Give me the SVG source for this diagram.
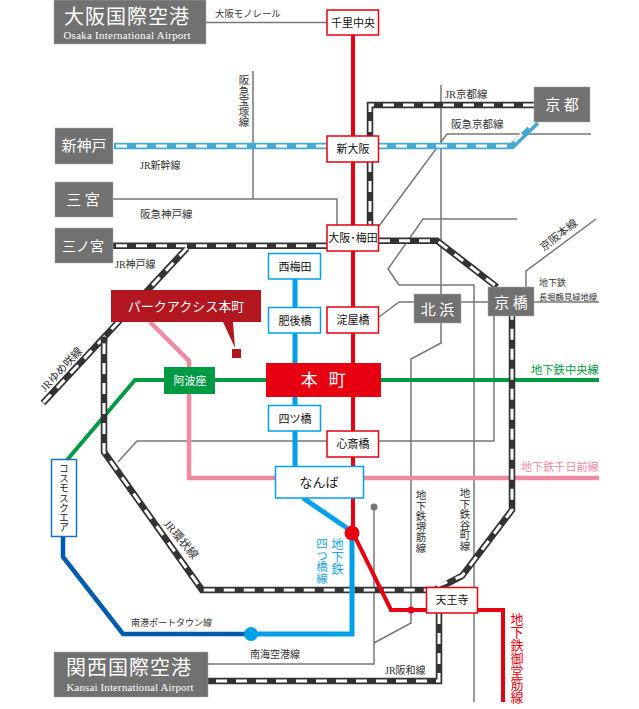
<svg xmlns="http://www.w3.org/2000/svg" width="639" height="709" viewBox="0 0 639 709">
<style>
text{font-family:"Liberation Serif","Noto Sans CJK JP",serif;fill:#222}
.n{font-family:"Noto Sans CJK JP",sans-serif;text-anchor:middle}
.l{font-family:"Liberation Serif","Noto Sans CJK JP",serif;font-size:10px;fill:#333}
.v{writing-mode:vertical-rl;font-size:10.5px;fill:#333}
.w{fill:#fff}
.g{fill:none;stroke:#777;stroke-width:1.5}
.j{fill:none;stroke:#333;stroke-width:6.5}
.jd{fill:none;stroke:#fff;stroke-width:3;stroke-dasharray:11 9}
.s{fill:none;stroke:#46a9d4;stroke-width:6.5}
.gb{fill:#717171;stroke:#aaa;stroke-width:.5}
.rb{fill:#fff;stroke:#e60012;stroke-width:1.5}
.bb{fill:#fff;stroke:#00a0e9;stroke-width:1.5}
.st{font-size:11px;fill:#111}
</style>
<g id="connectors" fill="none">
<path class="g" d="M206 22.5H327"/>
<path class="g" d="M253 71V199M113 199H337V225"/>
<path class="g" d="M441 85V343L411 359V623L374 643"/>
<path class="g" d="M379 226L447 134H591"/>
<path class="g" d="M517 219H423L388 269L399 285H474V702"/>
<path class="g" d="M596 219L526 271V287"/>
<path class="g" d="M379 317L399 302H599"/>
<path class="g" d="M118 462L137 441H494V316"/>
<path class="g" d="M208 664H374V507"/>
<path stroke="#ee8aa0" stroke-width="4.5" d="M150 322L189 361V478H599"/>
<path stroke="#009944" stroke-width="4" d="M599 380H135L67 460"/>
<path class="j" d="M113 245.7H327M187 248L43 403M104 340V452L202 590H435L462 576L512 510V316M379 240.7H437L497 287M534 105H370V225M439 613V681H208"/>
<path class="jd" d="M116 245.7H327M187 248L43 403M104 343V452L202 590H426M437 586L462 576L512 510V316M379 240.7H437L497 287M534 105H370V225M439 613V681H208"/>
<path class="s" d="M114 146H512L537 122"/>
<path stroke="#fff" stroke-width="3" stroke-dasharray="11 9" d="M116 146H510L537 119"/>
<circle cx="104" cy="340" r="3.5" fill="#333"/>
<path stroke="#00a0e9" stroke-width="5" d="M295 279V466M303 498L347 528M352 533V634H251"/>
<path stroke="#005bac" stroke-width="4.5" d="M63 536V557L123 634H245"/>
<circle cx="251" cy="634" r="7" fill="#00a0e9"/>
<path stroke="#e60012" stroke-width="4" d="M353 35V533L391 610H503V702"/>
<circle cx="352" cy="533" r="7.5" fill="#e60012"/>
<circle cx="411" cy="610" r="3.5" fill="#e60012"/>
<circle cx="374" cy="507" r="3.5" fill="#777"/>
</g>
<g id="itami"><rect class="gb" x="54" y="0" width="152" height="44"/><text class="n w" x="127" y="23.500" font-size="20" letter-spacing="1">大阪国際空港</text><text class="n w" x="127" y="39" font-size="10.800" style="font-family:'Liberation Serif',serif" textLength="127">Osaka International Airport</text></g>
<g id="kansai"><rect class="gb" x="54" y="652" width="154" height="45"/><text class="n w" x="129" y="674.500" font-size="20" letter-spacing="1">関西国際空港</text><text class="n w" x="130" y="690.500" font-size="10.800" style="font-family:'Liberation Serif',serif" textLength="127">Kansai International Airport</text></g>
<g id="shinkobe"><rect class="gb" x="55" y="128" width="58" height="36"/><text class="n w" x="84" y="151" font-size="15">新神戸</text></g>
<g id="sannomiya1"><rect class="gb" x="55" y="182" width="58" height="35"/><text class="n w" x="83" y="205" font-size="15">三 宮</text></g>
<g id="sannomiya2"><rect class="gb" x="55" y="228" width="58" height="35"/><text class="n w" x="83" y="251" font-size="14">三ノ宮</text></g>
<g id="kyoto"><rect class="gb" x="534" y="87" width="56" height="35"/><text class="n w" x="562" y="110" font-size="15">京 都</text></g>
<g id="kitahama"><rect class="gb" x="414" y="294" width="47" height="29"/><text class="n w" x="437.500" y="315" font-size="15">北 浜</text></g>
<g id="kyobashi"><rect class="gb" x="488" y="287" width="46" height="29"/><text class="n w" x="511" y="308" font-size="15">京 橋</text></g>
<g id="senri"><rect class="rb" x="327" y="10" width="51.500" height="25"/><text class="n st" x="353" y="27">千里中央</text></g>
<g id="shinosaka"><rect class="rb" x="327" y="136" width="51.500" height="26"/><text class="n st" x="353" y="153">新大阪</text></g>
<g id="umeda"><rect class="rb" x="327" y="225" width="51.500" height="26"/><text class="n st" x="353" y="242">大阪･梅田</text></g>
<g id="yodoyabashi"><rect class="rb" x="327" y="307" width="51.500" height="26"/><text class="n st" x="353" y="324">淀屋橋</text></g>
<g id="hommachi"><rect x="266" y="363" width="115" height="34" fill="#e60012"/><text class="n w" x="325" y="386" font-size="17" letter-spacing="3.500">本 町</text></g>
<g id="shinsaibashi"><rect class="rb" x="327" y="431" width="51.500" height="26"/><text class="n st" x="353" y="448">心斎橋</text></g>
<g id="tennoji"><rect class="rb" x="426.500" y="587.500" width="51" height="25.500"/><text class="n st" x="452" y="604">天王寺</text></g>
<g id="nishiumeda"><rect class="bb" x="268.500" y="253.500" width="52" height="25.500"/><text class="n st" x="295" y="271">西梅田</text></g>
<g id="higobashi"><rect class="bb" x="268.500" y="307.500" width="52" height="25.500"/><text class="n st" x="295" y="325">肥後橋</text></g>
<g id="yotsubashi"><rect class="bb" x="268.500" y="405.500" width="52" height="25.500"/><text class="n st" x="295" y="423">四ツ橋</text></g>
<g id="namba"><rect class="bb" x="275.500" y="466.500" width="88" height="31.500"/><text class="n" x="319" y="487" font-size="13" fill="#111">なんば</text></g>
<g id="awaza"><rect x="164" y="367" width="51" height="27" fill="#009944"/><text class="n w" x="190" y="385" font-size="11">阿波座</text></g>
<g id="cosmo"><rect x="51.500" y="459.500" width="25" height="77" fill="#fff" stroke="#1a6fbb" stroke-width="1.500"/><text x="64" y="498" font-size="9.800" fill="#111" style="writing-mode:vertical-rl;text-anchor:middle;font-family:'Noto Sans CJK JP',sans-serif">コスモスクエア</text></g>
<g id="parkaxis"><rect x="111" y="290" width="150" height="32" fill="#b2161e"/><path d="M223 322L235 348L233 322Z" fill="#b2161e"/><rect x="232" y="349" width="9" height="9" fill="#b2161e"/><text class="n w" x="186" y="311" font-size="13">パークアクシス本町</text></g>
<g id="labels">
<text class="l" x="215" y="17" style="font-size:9.400px">大阪モノレール</text>
<text class="l" x="445" y="98" style="font-size:10.500px">JR京都線</text>
<text class="l" x="451" y="128" style="font-size:10.500px">阪急京都線</text>
<text class="l" x="140" y="169" style="font-size:10px">JR新幹線</text>
<text class="l" x="140" y="218" style="font-size:10.500px">阪急神戸線</text>
<text class="l" x="115" y="268" style="font-size:10px">JR神戸線</text>
<text class="l" x="539" y="286" style="font-size:9px">地下鉄</text>
<text class="l" x="539" y="300" style="font-size:8.300px">長堀鶴見緑地線</text>
<text class="l" x="131" y="626" style="font-size:9px">南港ポートタウン線</text>
<text class="l" x="250" y="658" style="font-size:10px">南海空港線</text>
<text class="l" x="385" y="674" style="font-size:10px">JR阪和線</text>
<text class="l" x="531" y="374" style="font-size:11.300px;fill:#009944">地下鉄中央線</text>
<text class="l" x="521" y="471" style="font-size:11.100px;fill:#ee8aa0">地下鉄千日前線</text>
<text class="v" x="243" y="75">阪急宝塚線</text>
<text class="v" x="420" y="490">地下鉄堺筋線</text>
<text class="v" x="464" y="488">地下鉄谷町線</text>
<text class="v" x="336" y="538" style="font-size:12.500px;fill:#1aa5e0">地下鉄</text>
<text class="v" x="321" y="538" style="font-size:11.500px;fill:#1aa5e0">四つ橋線</text>
<text class="v" x="516" y="613" style="font-size:13px;fill:#e60012">地下鉄御堂筋線</text>
<text class="l" text-anchor="middle" transform="translate(178 542) rotate(50)" style="font-size:11.500px">JR環状線</text>
<text class="l" text-anchor="middle" transform="translate(64 372) rotate(-47)" style="font-size:11px">JRゆめ咲線</text>
<text class="l" text-anchor="middle" transform="translate(561 238) rotate(-38)" style="font-size:11px">京阪本線</text>
</g>
</svg>
